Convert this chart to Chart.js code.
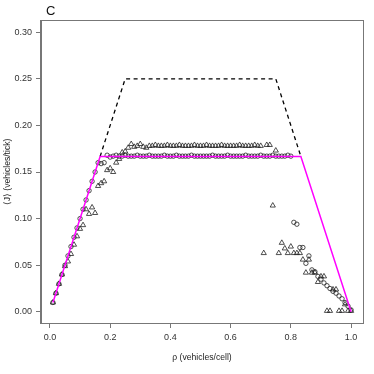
<!DOCTYPE html>
<html>
<head>
<meta charset="utf-8">
<title>Flow vs density</title>
<script src="https://cdn.jsdelivr.net/npm/chart.js@4.4.0/dist/chart.umd.min.js"></script>
<style>
  html, body { margin: 0; padding: 0; background: #fff; }
</style>
</head>
<body>
<canvas id="flowChart" width="374" height="374"></canvas>
<script>
// density grid (vehicles/cell)
const density = [
  0.01,0.02,0.03,0.04,0.05,0.06,0.07,0.08,0.09,0.10,
  0.11,0.12,0.13,0.14,0.15,0.16,0.17,0.18,0.19,0.20,
  0.21,0.22,0.23,0.24,0.25,0.26,0.27,0.28,0.29,0.30,
  0.31,0.32,0.33,0.34,0.35,0.36,0.37,0.38,0.39,0.40,
  0.41,0.42,0.43,0.44,0.45,0.46,0.47,0.48,0.49,0.50,
  0.51,0.52,0.53,0.54,0.55,0.56,0.57,0.58,0.59,0.60,
  0.61,0.62,0.63,0.64,0.65,0.66,0.67,0.68,0.69,0.70,
  0.71,0.72,0.73,0.74,0.75,0.76,0.77,0.78,0.79,0.80,
  0.81,0.82,0.83,0.84,0.85,0.86,0.87,0.88,0.89,0.90,
  0.91,0.92,0.93,0.94,0.95,0.96,0.97,0.98,0.99,1.00
];
// circles
const circleFlow = [
  0.010,0.020,0.030,0.040,0.050,0.060,0.070,0.080,0.090,0.100,
  0.110,0.120,0.130,0.140,0.150,0.160,0.159,0.160,0.168,0.166,
  0.167,0.168,0.167,0.167,0.168,0.167,0.167,0.167,0.168,0.167,
  0.167,0.167,0.168,0.167,0.167,0.167,0.167,0.168,0.167,0.167,
  0.167,0.168,0.167,0.167,0.167,0.167,0.168,0.167,0.167,0.167,
  0.167,0.167,0.167,0.168,0.167,0.167,0.167,0.167,0.168,0.167,
  0.167,0.167,0.167,0.167,0.168,0.167,0.167,0.167,0.167,0.168,
  0.167,0.167,0.167,0.168,0.167,0.167,0.167,0.167,0.168,0.167,
  0.096,0.094,0.069,0.069,0.052,0.060,0.045,0.043,0.038,0.035,
  0.031,0.028,0.025,0.022,0.020,0.017,0.014,0.010,0.006,0.002
];
// triangles
const triangleFlow = [
  0.010,0.020,0.030,0.040,0.049,0.054,0.062,0.072,0.081,0.089,
  0.093,0.110,0.105,0.112,0.106,0.135,0.138,0.140,0.152,0.154,
  0.150,0.160,0.164,0.171,0.172,0.176,0.180,0.177,0.178,0.180,
  0.177,0.176,0.178,0.178,0.179,0.178,0.178,0.178,0.179,0.178,
  0.178,0.178,0.179,0.178,0.178,0.178,0.178,0.179,0.178,0.178,
  0.178,0.179,0.178,0.178,0.178,0.178,0.179,0.178,0.178,0.178,
  0.178,0.178,0.179,0.178,0.178,0.178,0.178,0.179,0.178,0.178,
  0.063,0.179,0.179,0.114,0.173,0.063,0.074,0.068,0.063,0.070,
  0.063,0.063,0.063,0.056,0.042,0.056,0.042,0.042,0.032,0.038,
  0.038,0.001,0.001,0.024,0.024,0.001,0.001,0.008,0.001,0.001
];
// theory lines
const theoryX = [0.01, 0.1667, 0.8333, 1.0];
const theoryY = [0.01, 0.1667, 0.1667, 0.0];
const boundX = [0.1667, 0.25, 0.75, 0.8333];
const boundY = [0.1667, 0.25, 0.25, 0.1667];

const xTicks = [0, 0.2, 0.4, 0.6, 0.8, 1.0];
const yTicks = [0, 0.05, 0.10, 0.15, 0.20, 0.25, 0.30];
const panelLabel = 'C';

const FONT = '"Liberation Sans", Arial, Helvetica, sans-serif';
const pts = (xs, ys) => xs.map((x, i) => ({ x: x, y: ys[i] }));

const boxPlugin = {
  id: 'boxPlugin',
  afterDraw(chart) {
    const { ctx, chartArea: a } = chart;
    ctx.save();
    ctx.strokeStyle = '#777';
    ctx.lineWidth = 1;
    ctx.strokeRect(a.left - 0.5, a.top - 0.5, a.right - a.left + 1, a.bottom - a.top + 1);
    ctx.fillStyle = '#111';
    ctx.font = '13px ' + FONT;
    ctx.fillText(panelLabel, 46, 15);
    ctx.restore();
  }
};

const ctx = document.getElementById('flowChart').getContext('2d');
const chart = new Chart(ctx, {
  type: 'scatter',
  data: {
    datasets: [
      {
        type: 'line', data: pts(theoryX, theoryY), order: 0,
        borderColor: '#ff00ff', borderWidth: 1.5, pointRadius: 0, fill: false
      },
      {
        type: 'line', data: pts(boundX, boundY), order: 1,
        borderColor: '#000', borderWidth: 1.3, borderDash: [4, 3.5], pointRadius: 0, fill: false
      },
      {
        data: pts(density, circleFlow), order: 2,
        pointStyle: 'circle', pointRadius: 2.2, pointBorderWidth: 0.8,
        pointBorderColor: '#222', pointBackgroundColor: 'rgba(0,0,0,0)'
      },
      {
        data: pts(density, triangleFlow), order: 3,
        pointStyle: 'triangle', pointRadius: 3, pointBorderWidth: 0.8,
        pointBorderColor: '#222', pointBackgroundColor: 'rgba(0,0,0,0)'
      }
    ]
  },
  options: {
    responsive: false,
    animation: false,
    layout: { padding: { top: 21, right: 11, left: 0, bottom: 0 } },
    plugins: { legend: { display: false }, tooltip: { enabled: false } },
    scales: {
      x: {
        type: 'linear', min: -0.0296, max: 1.0396,
        afterBuildTicks: s => { s.ticks = xTicks.map(v => ({ value: v })); },
        afterFit: s => { s.height = 51; },
        ticks: {
          callback: v => v.toFixed(1), color: '#333', padding: 4,
          font: { size: 9, family: FONT }, maxRotation: 0, autoSkip: false
        },
        grid: { drawOnChartArea: false, drawTicks: true, tickLength: 5, color: '#777' },
        border: { display: true, color: '#777' },
        title: {
          display: true, text: 'ρ (vehicles/cell)', color: '#222',
          font: { size: 8.6, family: FONT }, padding: { top: 0, bottom: 11 }
        }
      },
      y: {
        type: 'linear', min: -0.012, max: 0.312,
        afterBuildTicks: s => { s.ticks = yTicks.map(v => ({ value: v })); },
        afterFit: s => { s.width = 41; },
        ticks: {
          callback: v => v.toFixed(2), color: '#333', padding: 4,
          font: { size: 9, family: FONT }, autoSkip: false
        },
        grid: { drawOnChartArea: false, drawTicks: true, tickLength: 5, color: '#777' },
        border: { display: true, color: '#777' },
        title: {
          display: true, text: '⟨J⟩ (vehicles/tick)', color: '#222',
          font: { size: 8.6, family: FONT }, padding: { top: 2, bottom: 0 }
        }
      }
    }
  },
  plugins: [boxPlugin]
});
</script>
</body>
</html>
